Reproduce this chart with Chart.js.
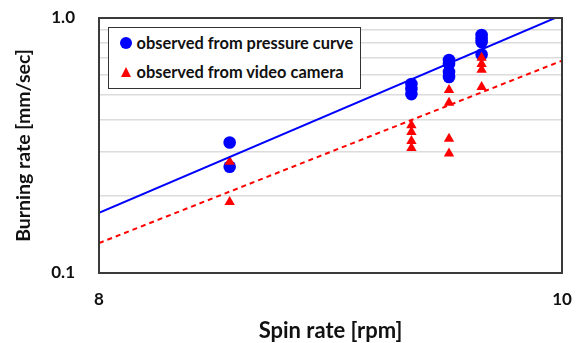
<!DOCTYPE html>
<html>
<head>
<meta charset="utf-8">
<script src="https://cdn.jsdelivr.net/npm/chart.js@4/dist/chart.umd.min.js"></script>
<style>
  html, body { margin: 0; padding: 0; background: #fff; }
  #wrap { position: relative; width: 577px; height: 343px; }
  #c { position: absolute; left: 0; top: 0; }
  #lg { position: absolute; left: 108px; top: 27px; width: 253px; height: 62px; box-sizing: border-box;
        border: 1.5px solid #333; background: #fff; font-family: Lato, sans-serif; font-weight: bold;
        font-size: 16.4px; color: #111; }
  .row { position: absolute; left: 27.5px; white-space: nowrap; line-height: 18px; }
  .dot { position: absolute; width: 12px; height: 12px; border-radius: 50%; background: #0000ff; }
  .tri { position: absolute; width: 0; height: 0; border-left: 5.5px solid transparent; border-right: 5.5px solid transparent; border-bottom: 10px solid #ff0000; }
</style>
</head>
<body>
<div id="wrap">
  <canvas id="c" width="577" height="343"></canvas>
  <div id="lg">
    <div class="dot" style="left:11px;top:9px"></div>
    <div class="row" style="top:6px">observed from pressure curve</div>
    <div class="tri" style="left:11.5px;top:39px"></div>
    <div class="row" style="top:35px">observed from video camera</div>
  </div>
</div>
<script>
// ---- data ----
const pressureX = [8.52, 8.52, 9.30, 9.30, 9.30, 9.47, 9.47, 9.47, 9.47, 9.62, 9.62, 9.62, 9.62];
const pressureY = [0.325, 0.261, 0.551, 0.527, 0.503, 0.684, 0.660, 0.614, 0.587, 0.858, 0.831, 0.805, 0.719];
const videoX = [8.52, 8.52, 9.30, 9.30, 9.30, 9.30, 9.47, 9.47, 9.47, 9.47, 9.62, 9.62, 9.62, 9.62];
const videoY = [0.273, 0.190, 0.380, 0.357, 0.329, 0.309, 0.522, 0.465, 0.336, 0.294, 0.699, 0.660, 0.626, 0.536];
const fitX = [8, 10];
const pressureFit = [0.172, 1.027];
const videoFit = [0.131, 0.68];
const xTickValues = [8, 10];
const xTickLabels = ['8', '10'];
const yGridValues = [0.1, 0.2, 0.3, 0.4, 0.5, 0.6, 0.7, 0.8, 0.9, 1.0];
const yTickValues = [0.1, 1.0];
const yTickLabels = ['0.1', '1.0'];
const xTitle = 'Spin rate [rpm]';
const yTitle = 'Burning rate [mm/sec]';

const pts = (xs, ys) => xs.map((x, i) => ({ x: x, y: ys[i] }));
const labelFor = (vals, labels) => v => {
  const i = vals.findIndex(t => Math.abs(t - v) < 1e-9);
  return i >= 0 ? labels[i] : '';
};
const zeroPad = s => { s.paddingTop = 0; s.paddingBottom = 0; s.paddingLeft = 0; s.paddingRight = 0; };

const framePlugin = {
  id: 'frame',
  afterDraw(chart) {
    const { ctx, chartArea: a } = chart;
    ctx.save();
    ctx.strokeStyle = '#3a3a3a';
    ctx.lineWidth = 2;
    ctx.strokeRect(a.left, a.top, a.right - a.left, a.bottom - a.top);
    ctx.restore();
  }
};

new Chart(document.getElementById('c'), {
  type: 'scatter',
  data: {
    datasets: [
      { label: 'fit pressure', type: 'line', data: pts(fitX, pressureFit), borderColor: '#0000ff', borderWidth: 2,
        pointRadius: 0, fill: false, clip: 0, order: 0 },
      { label: 'fit video', type: 'line', data: pts(fitX, videoFit), borderColor: '#ff0000', borderWidth: 2,
        borderDash: [5, 4], pointRadius: 0, fill: false, clip: 0, order: 0 },
      { label: 'observed from video camera', data: pts(videoX, videoY), pointStyle: 'triangle', pointRadius: 6,
        backgroundColor: '#ff0000', borderColor: '#ff0000', borderWidth: 0, order: 1 },
      { label: 'observed from pressure curve', data: pts(pressureX, pressureY), pointStyle: 'circle', pointRadius: 6.3,
        backgroundColor: '#0000ff', borderColor: '#0000ff', borderWidth: 0, order: 2 }
    ]
  },
  options: {
    responsive: false,
    animation: false,
    devicePixelRatio: 1,
    layout: { padding: { left: 0, right: 15, top: 18, bottom: 0 } },
    plugins: { legend: { display: false }, tooltip: { enabled: false } },
    scales: {
      x: {
        type: 'logarithmic', min: 8, max: 10,
        afterBuildTicks: s => { s.ticks = xTickValues.map(v => ({ value: v })); },
        afterFit: s => { s.height = 70; zeroPad(s); },
        grid: { display: false, drawTicks: false },
        border: { display: false },
        ticks: {
          padding: 16, color: '#111', maxRotation: 0, autoSkip: false,
          font: { family: 'Lato', weight: 'bold', size: 17 },
          callback: labelFor(xTickValues, xTickLabels)
        },
        title: { display: true, text: xTitle, color: '#111', font: { family: 'Lato', weight: 'bold', size: 22 },
                 padding: { top: 0, bottom: -1 } }
      },
      y: {
        type: 'logarithmic', min: 0.1, max: 1.0,
        afterBuildTicks: s => { s.ticks = yGridValues.map(v => ({ value: v })); },
        afterFit: s => { s.width = 99; zeroPad(s); },
        grid: { color: '#dcdcdc', lineWidth: 1.5, drawTicks: false },
        border: { display: false },
        ticks: {
          padding: 24, color: '#111', autoSkip: false,
          font: { family: 'Lato', weight: 'bold', size: 17 },
          callback: labelFor(yTickValues, yTickLabels)
        },
        title: { display: true, text: yTitle, color: '#111', font: { family: 'Lato', weight: 'bold', size: 19.5 },
                 padding: { top: 12, bottom: 0 } }
      }
    }
  },
  plugins: [framePlugin]
});
</script>
</body>
</html>
